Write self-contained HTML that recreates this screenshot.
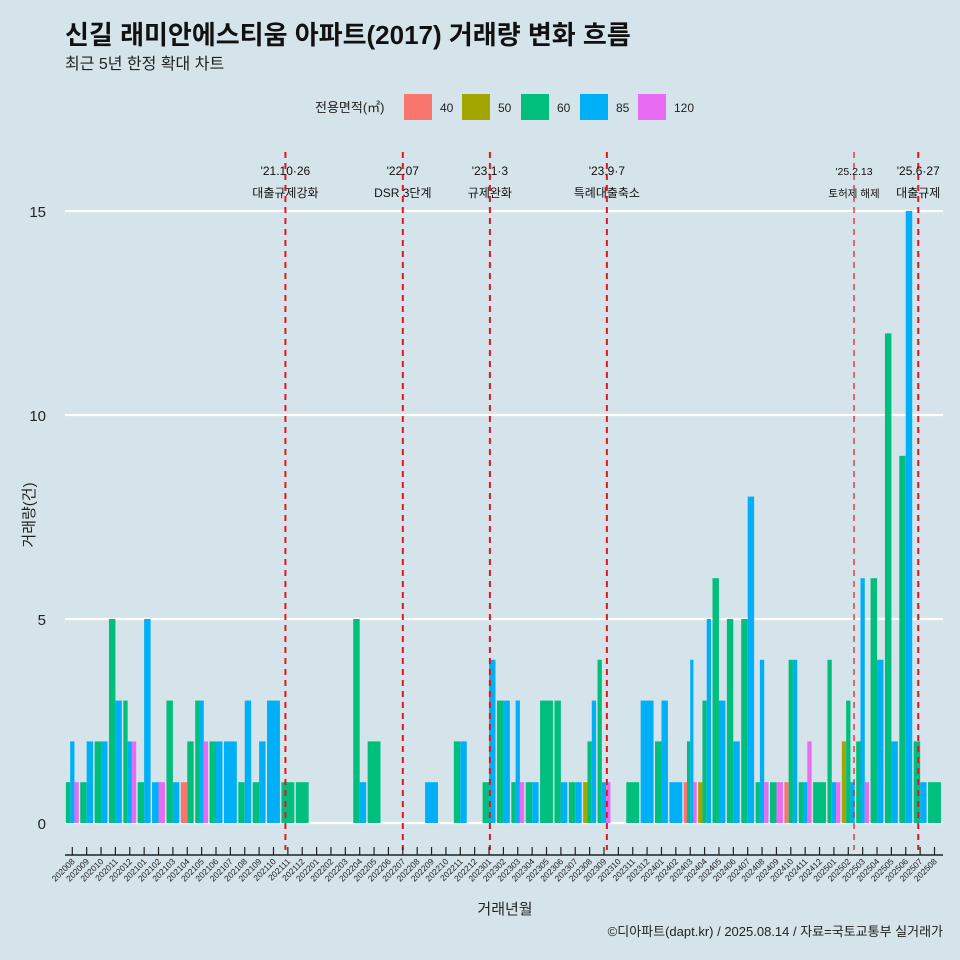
<!DOCTYPE html>
<html><head><meta charset="utf-8"><style>
body{margin:0;background:#d5e3ea;}
svg{display:block;font-family:"Liberation Sans","Noto Sans CJK KR",sans-serif;}
</style></head><body>
<svg id="c" width="960" height="960" viewBox="0 0 960 960">
<rect width="960" height="960" fill="#d5e3ea"/>
<text x="65" y="44" font-size="26" font-weight="bold" fill="#111">신길 래미안에스티움 아파트(2017) 거래량 변화 흐름</text>
<text x="65" y="69" font-size="16" fill="#222">최근 5년 한정 확대 차트</text>
<g id="legend">
<text x="315" y="112" font-size="13" fill="#222">전용면적(㎡)</text>
</g>
<g id="grid"></g><g id="bars"></g><g id="events"></g><g id="axes"></g>
<text x="505" y="914" font-size="15" text-anchor="middle" fill="#222">거래년월</text>
<text transform="translate(34,515) rotate(-90)" font-size="15" text-anchor="middle" fill="#222">거래량(건)</text>
<text x="943" y="936" font-size="13" text-anchor="end" fill="#222">©디아파트(dapt.kr) / 2025.08.14 / 자료=국토교통부 실거래가</text>
</svg>
<script>
const months=["202008","202009","202010","202011","202012","202101","202102","202103","202104","202105","202106","202107","202108","202109","202110","202111","202112","202201","202202","202203","202204","202205","202206","202207","202208","202209","202210","202211","202212","202301","202302","202303","202304","202305","202306","202307","202308","202309","202310","202311","202312","202401","202402","202403","202404","202405","202406","202407","202408","202409","202410","202411","202412","202501","202502","202503","202504","202505","202506","202507","202508"];
const seriesNames=["40","50","60","85","120"];
const s40=[0,0,0,0,0,0,0,0,1,0,0,0,0,0,0,0,0,0,0,0,0,0,0,0,0,0,0,0,0,0,0,0,0,0,0,0,0,0,0,0,0,0,0,1,0,0,0,0,0,0,1,0,0,0,0,0,0,0,0,0,0];
const s50=[0,0,0,0,0,0,0,0,0,0,0,0,0,0,0,0,0,0,0,0,0,0,0,0,0,0,0,0,0,0,0,0,0,0,0,0,1,0,0,0,0,0,0,0,1,0,0,0,0,0,0,0,0,0,2,0,0,0,0,0,0];
const s60=[1,1,2,5,3,1,0,3,2,3,2,0,1,1,0,1,1,0,0,0,5,2,0,0,0,0,0,2,0,1,3,1,1,3,3,1,2,4,0,1,0,2,0,2,3,6,5,5,1,1,4,1,1,4,3,2,6,12,9,2,1];
const s85=[2,2,2,3,2,5,1,1,0,3,2,2,3,2,3,0,0,0,0,0,1,0,0,0,0,1,0,2,0,4,3,3,1,0,1,1,3,1,0,0,3,3,1,4,5,3,2,8,4,0,4,1,0,1,1,6,4,2,15,1,0];
const s120=[1,0,0,0,2,0,1,0,0,2,0,0,0,0,0,0,0,0,0,0,0,0,0,0,0,0,0,0,0,0,0,1,0,0,0,0,0,1,0,0,0,0,0,1,0,0,0,0,1,1,0,2,0,1,0,1,0,0,0,0,0];
const yTicks=[0,5,10,15];
const events=[{m:"202110",off:0.83,l1:"'21.10·26",l2:"대출규제강화",w:2,fs:12},{m:"202207",off:0,l1:"'22.07",l2:"DSR 3단계",w:2,fs:12},{m:"202301",off:0.06,l1:"'23.1·3",l2:"규제완화",w:2,fs:12},{m:"202309",off:0.2,l1:"'23.9·7",l2:"특례대출축소",w:2,fs:12},{m:"202502",off:0.4,l1:"'25.2.13",l2:"토허제 해제",w:1.2,fs:10.5},{m:"202506",off:0.87,l1:"'25.6·27",l2:"대출규제",w:2,fs:12}];
const colors=["#F8766D","#A3A500","#00BF7D","#00B0F6","#E76BF3"];
const NS="http://www.w3.org/2000/svg";
const x0=72.3,step=14.37,yZero=823,yUnit=40.8,left=65,right=943;
const xs=i=>x0+i*step, ys=v=>yZero-v*yUnit;
function mk(tag,attrs,parent){const e=document.createElementNS(NS,tag);for(const k in attrs)e.setAttribute(k,attrs[k]);parent.appendChild(e);return e;}
const grid=document.getElementById('grid'),bars=document.getElementById('bars'),ev=document.getElementById('events'),ax=document.getElementById('axes'),lg=document.getElementById('legend');
yTicks.forEach(t=>{
 const l=mk('line',{x1:left,x2:right,y1:ys(t),y2:ys(t),stroke:'#fff','stroke-width':2.2},grid);
 
 
 const tx=mk('text',{x:46,y:ys(t)+6,'font-size':15,'text-anchor':'end',fill:'#222'},ax);
 tx.textContent=t;
 
 
});
const all=[s40,s50,s60,s85,s120];
const gw=12.9;
months.forEach((m,i)=>{
 const present=[];all.forEach((s,k)=>{if(s[i]>0)present.push(k);});
 const bw=gw/(present.length||1);
 present.forEach((k,j)=>{
  const v=all[k][i];
  const r=mk('rect',{x:xs(i)-gw/2+j*bw,y:ys(v),width:bw,height:v*yUnit,fill:colors[k]},bars);
  
  
 });
 const tk=mk('line',{x1:xs(i),x2:xs(i),y1:847,y2:855,stroke:'#222','stroke-width':1.2},ax);
 
 
 const tl=mk('text',{transform:`translate(${xs(i)+3},862) rotate(-45)`,'font-size':8.5,'text-anchor':'end',fill:'#222'},ax);
 tl.textContent=m;
 
 
});
const axl=mk('line',{x1:left,x2:right,y1:855,y2:855,stroke:'#222','stroke-width':1.5},ax);


events.forEach(e=>{
 const x=xs(months.indexOf(e.m)+e.off);
 const l=mk('line',{x1:x,x2:x,y1:152,y2:850,stroke:'#e8141c','stroke-width':e.w,'stroke-dasharray':'6,5'},ev);
 
 
 const t1=mk('text',{x:x,y:175,'font-size':e.fs,'text-anchor':'middle',fill:'#111'},ev);
 t1.textContent=e.l1;
 
 
 const t2=mk('text',{x:x,y:197,'font-size':e.fs,'text-anchor':'middle',fill:'#111'},ev);
 t2.textContent=e.l2;
 
 
});
const lx=[404,462,521,580,638];
seriesNames.forEach((n,k)=>{
 const r=mk('rect',{x:lx[k],y:94,width:28,height:26,fill:colors[k]},lg);
 
 
 const t=mk('text',{x:lx[k]+36,y:112,'font-size':12,fill:'#222'},lg);
 t.textContent=n;
 
 
});
</script>
</body></html>
